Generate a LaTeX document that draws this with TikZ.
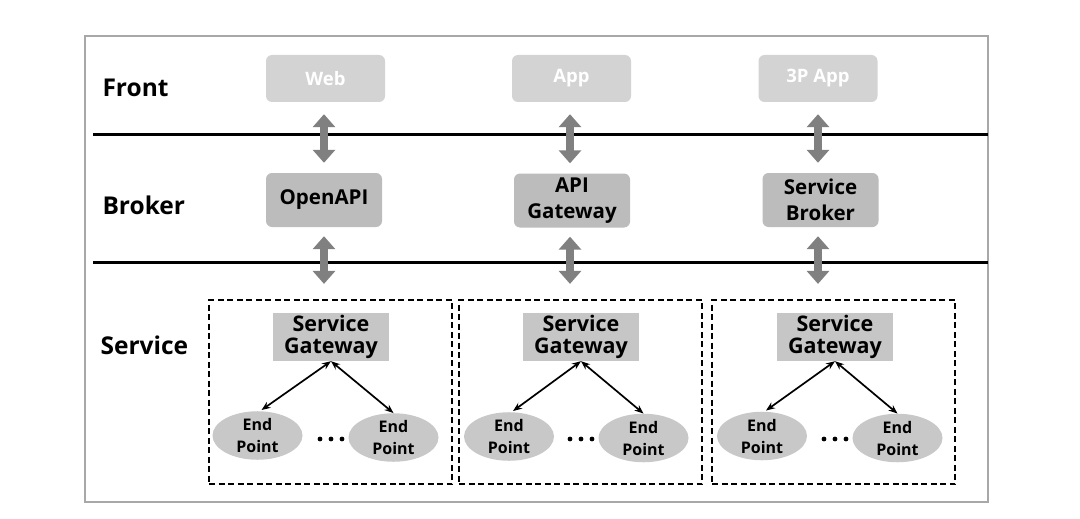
\documentclass[tikz,border=0pt]{standalone}
\usepackage{fontspec}
\setmainfont{Open Sans}
\usetikzlibrary{arrows.meta,shapes.geometric}
\definecolor{frontfill}{HTML}{D3D3D3}
\definecolor{brokerfill}{HTML}{BCBCBC}
\definecolor{gwfill}{HTML}{C6C6C6}
\definecolor{epfill}{HTML}{C8C8C8}
\definecolor{bigarrow}{HTML}{808080}
\definecolor{framecol}{HTML}{A8A8A8}
\begin{document}
\begin{tikzpicture}[x=1pt,y=-1pt,
  layerlabel/.style={anchor=west,font=\fontsize{24.5}{28}\selectfont\bfseries},
  frontbox/.style={rounded corners=6pt,fill=frontfill,minimum width=119pt,minimum height=47pt,
     text=white,font=\fontsize{18.5}{22}\selectfont\bfseries,inner sep=0pt},
  brokerbox/.style={rounded corners=6pt,fill=brokerfill,minimum width=116pt,minimum height=54pt,
     align=center,font=\fontsize{20.5}{26}\selectfont\bfseries,inner sep=0pt},
  svcbox/.style={draw,line width=2.2pt,dash pattern=on 6pt off 3.5pt,minimum width=243pt,minimum height=184pt,inner sep=0pt},
  gwbox/.style={fill=gwfill,minimum width=116pt,minimum height=48pt,align=center,
     font=\fontsize{21.5}{22.5}\selectfont\bfseries,inner sep=0pt},
  endpt/.style={ellipse,fill=epfill,minimum width=90pt,minimum height=45pt,inner sep=0pt,align=center,
     font=\fontsize{16}{22}\selectfont\bfseries},
  thickarrow/.style={draw=bigarrow,line width=8pt,
     {Triangle[width=22pt,length=13pt]}-{Triangle[width=22pt,length=13pt]}},
  thinarrow/.style={line width=1.7pt,{Stealth[length=9pt,width=7pt]}-{Stealth[length=9pt,width=7pt]}},
  layerline/.style={line width=3pt},
  dot/.style={circle,fill,inner sep=0pt,minimum size=4.8pt}
]
\useasboundingbox (0,0) rectangle (1080,519);
\fill[white] (0,0) rectangle (1080,519);
\draw[framecol,line width=1.2pt] (85,36) rectangle (988,502);

% layer separators
\coordinate (l1a) at (93,134); \coordinate (l1b) at (988,134);
\coordinate (l2a) at (93,262); \coordinate (l2b) at (988,262);
\draw[layerline] (l1a) -- (l1b);
\draw[layerline] (l2a) -- (l2b);

% labels
\node[layerlabel] (lfront) at (99,88) {Front};
\node[layerlabel] (lbroker) at (99,205) {Broker};
\node[layerlabel] (lservice) at (97,345) {Service};

% front boxes
\node[frontbox] (web) at (325.5,78.5) {Web};
\node[frontbox] (app) at (571.5,78.5) {App};
\node[frontbox] (tpapp) at (818,78.5) {3P App};

% broker boxes
\node[brokerbox] (openapi) at (324,200) {OpenAPI};
\node[brokerbox] (apigw) at (572,200.5) {API\\Gateway};
\node[brokerbox] (sbroker) at (820.5,200) {Service\\Broker};

% service boxes
\node[svcbox] (box1) at (330.5,392) {};
\node[svcbox] (box2) at (580.5,392) {};
\node[svcbox] (box3) at (833.5,392) {};

\node[gwbox] (gw1) at (331,337) {Service\\Gateway};
\node[gwbox] (gw2) at (581,337) {Service\\Gateway};
\node[gwbox] (gw3) at (835,337) {Service\\Gateway};

\node[endpt] (e1a) at (257.5,435.5) {End\\Point};
\node[endpt] (e1b) at (393.5,437.5) {End\\Point};
\node[endpt] (e2a) at (509,436.5) {End\\Point};
\node[endpt] (e2b) at (643.5,438) {End\\Point};
\node[endpt] (e3a) at (762,436) {End\\Point};
\node[endpt] (e3b) at (897.5,438) {End\\Point};

% dots
\foreach \b/\x in {1/331,2/581,3/835}{
  \node[dot] (d\b a) at (\x-11,439) {};
  \node[dot] (d\b b) at (\x,439) {};
  \node[dot] (d\b c) at (\x+11,439) {};
}

% thick arrows
\draw[thickarrow,shorten <=12pt,shorten >=10pt] (web.south -| openapi.north) -- (openapi.north);
\draw[thickarrow,shorten <=12pt,shorten >=10pt] (app.south -| 570,0) -- (apigw.north -| 570,0);
\draw[thickarrow,shorten <=12pt,shorten >=10pt] (tpapp.south -| 818,0) -- (sbroker.north -| 818,0);
\draw[thickarrow,shorten <=9pt,shorten >=15pt] (openapi.south) -- (openapi.south |- box1.north);
\draw[thickarrow,shorten <=9pt,shorten >=15pt] (apigw.south -| 570,0) -- (box2.north -| 570,0);
\draw[thickarrow,shorten <=9pt,shorten >=15pt] (sbroker.south -| 818,0) -- (box3.north -| 818,0);

% thin arrows
\draw[thinarrow] (gw1.south) -- ([xshift=4pt,yshift=1pt]e1a.north);
\draw[thinarrow] (gw1.south) -- (e1b.north);
\draw[thinarrow] (gw2.south) -- ([xshift=4pt,yshift=1pt]e2a.north);
\draw[thinarrow] (gw2.south) -- (e2b.north);
\draw[thinarrow] (gw3.south) -- ([xshift=4pt,yshift=1pt]e3a.north);
\draw[thinarrow] (gw3.south) -- (e3b.north);
\end{tikzpicture}
\end{document}
